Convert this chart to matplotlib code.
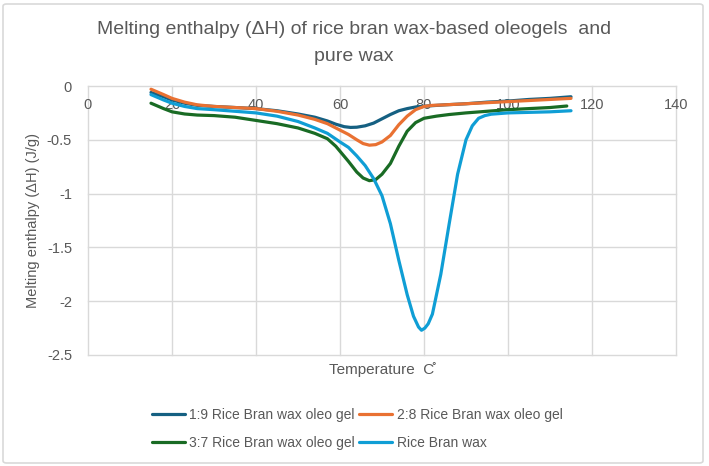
import matplotlib
matplotlib.use("Agg")
import matplotlib.pyplot as plt
from matplotlib.patches import FancyBboxPatch

plt.rcParams['font.family'] = ['Liberation Sans', 'DejaVu Sans']

# ---- data ----
x_19 = [15, 18, 20, 23, 26, 30, 35, 40, 45, 50, 54, 57, 59, 61, 62.5, 64, 66, 68, 70, 72, 74, 76, 78, 80, 85, 90, 95, 100, 105, 110, 115]
y_19 = [-0.06, -0.10, -0.13, -0.16, -0.18, -0.19, -0.20, -0.21, -0.23, -0.26, -0.29, -0.325, -0.355, -0.378, -0.385, -0.383, -0.37, -0.345, -0.305, -0.265, -0.23, -0.21, -0.195, -0.188, -0.175, -0.165, -0.15, -0.14, -0.125, -0.115, -0.10]

x_28 = [15, 18, 20, 23, 26, 30, 35, 40, 45, 50, 54, 57, 60, 62, 64, 65.5, 67, 68.5, 70, 72, 74, 76, 78, 80, 82, 85, 90, 95, 100, 105, 110, 115]
y_28 = [-0.03, -0.08, -0.115, -0.15, -0.175, -0.19, -0.20, -0.21, -0.235, -0.27, -0.31, -0.35, -0.41, -0.45, -0.50, -0.535, -0.55, -0.545, -0.52, -0.46, -0.36, -0.28, -0.22, -0.19, -0.18, -0.175, -0.165, -0.155, -0.145, -0.135, -0.125, -0.115]

x_37 = [15, 18, 20, 23, 26, 30, 35, 40, 45, 50, 54, 57, 59, 60.5, 62, 64, 65.5, 67, 68.5, 70, 72, 74, 76, 78, 80, 83, 86, 90, 95, 100, 105, 110, 114]
y_37 = [-0.16, -0.21, -0.24, -0.26, -0.27, -0.275, -0.29, -0.32, -0.35, -0.39, -0.44, -0.49, -0.56, -0.63, -0.70, -0.80, -0.855, -0.88, -0.87, -0.82, -0.72, -0.56, -0.42, -0.34, -0.30, -0.28, -0.265, -0.25, -0.235, -0.22, -0.21, -0.20, -0.186]

x_wax = [15, 18, 20, 23, 26, 30, 35, 40, 45, 50, 54, 57, 60, 62, 64, 66, 68, 70, 72, 74, 76, 77.5, 78.7, 79.4, 80.2, 81, 82, 84, 86, 88, 90, 91.5, 93, 94.5, 96, 100, 105, 110, 115]
y_wax = [-0.08, -0.13, -0.16, -0.19, -0.21, -0.22, -0.235, -0.25, -0.28, -0.33, -0.39, -0.44, -0.52, -0.57, -0.65, -0.74, -0.86, -1.02, -1.28, -1.62, -1.94, -2.14, -2.24, -2.27, -2.25, -2.21, -2.12, -1.75, -1.28, -0.82, -0.50, -0.37, -0.30, -0.275, -0.262, -0.25, -0.245, -0.24, -0.23]

series_labels = ["1:9 Rice Bran wax oleo gel", "2:8 Rice Bran wax oleo gel",
                 "3:7 Rice Bran wax oleo gel", "Rice Bran wax"]
colors = ["#156082", "#E97132", "#196B24", "#0F9ED5"]
x_ticks = [0, 20, 40, 60, 80, 100, 120, 140]
y_ticks = [0, -0.5, -1, -1.5, -2, -2.5]
y_tick_labels = ["0", "-0.5", "-1", "-1.5", "-2", "-2.5"]

title = "Melting enthalpy (\u0394H) of rice bran wax-based oleogels  and\npure wax"
xlabel = "Temperature  C\u030a"
ylabel = "Melting enthalpy (\u0394H) (J/g)"

# ---- figure ----
fig = plt.figure(figsize=(7.09, 4.66), dpi=100)
W, H = 709, 466
ax = fig.add_axes([88 / W, 1 - 355 / H, (676 - 88) / W, (355 - 86) / H])

text_col = "#595959"
grid_col = "#D9D9D9"

handles = []
for xs, ys, lab, c in zip([x_19, x_28, x_37, x_wax], [y_19, y_28, y_37, y_wax], series_labels, colors):
    h, = ax.plot(xs, ys, color=c, lw=2.3, label=lab, solid_capstyle='round',
                 solid_joinstyle='round', zorder=3)
    handles.append(h)

ax.set_xlim(0, 140)
ax.set_ylim(-2.5, 0)
ax.set_xticks(x_ticks)
ax.set_yticks(y_ticks)
ax.set_yticklabels(y_tick_labels)
ax.grid(True, color=grid_col, lw=1)
for ln in ax.get_xgridlines() + ax.get_ygridlines():
    ln.set_clip_on(False)
for s in ax.spines.values():
    s.set_visible(False)

ax.tick_params(axis='x', bottom=False, top=False, labelbottom=False, labeltop=True,
               pad=-22, labelsize=10.5, labelcolor=text_col)
ax.tick_params(axis='y', left=False, right=False, pad=8, labelsize=10.5, labelcolor=text_col)

ax.set_xlabel(xlabel, fontsize=11, color=text_col, labelpad=5)
ax.set_ylabel(ylabel, fontsize=10.5, color=text_col, labelpad=5)

fig.text(354 / W, 1 - 43 / H, title, ha='center', va='center', fontsize=14,
         color=text_col, linespacing=1.75)

order = [0, 2, 1, 3]
leg = fig.legend([handles[i] for i in order], [series_labels[i] for i in order],
                 loc='center', bbox_to_anchor=(357 / W, 1 - 429 / H), ncol=2,
                 frameon=False, fontsize=10, handlelength=2.4, handletextpad=0.3,
                 columnspacing=0.3, labelspacing=1.0, labelcolor=text_col, borderaxespad=0)

border = FancyBboxPatch((3 / W, 3 / H), (703 - 3) / W, (462 - 3) / H,
                        boxstyle="round,pad=0,rounding_size=0.005",
                        transform=fig.transFigure, fill=False, edgecolor="#D9D9D9", lw=1.2)
fig.patches.append(border)

fig.savefig("out.png", dpi=100)
